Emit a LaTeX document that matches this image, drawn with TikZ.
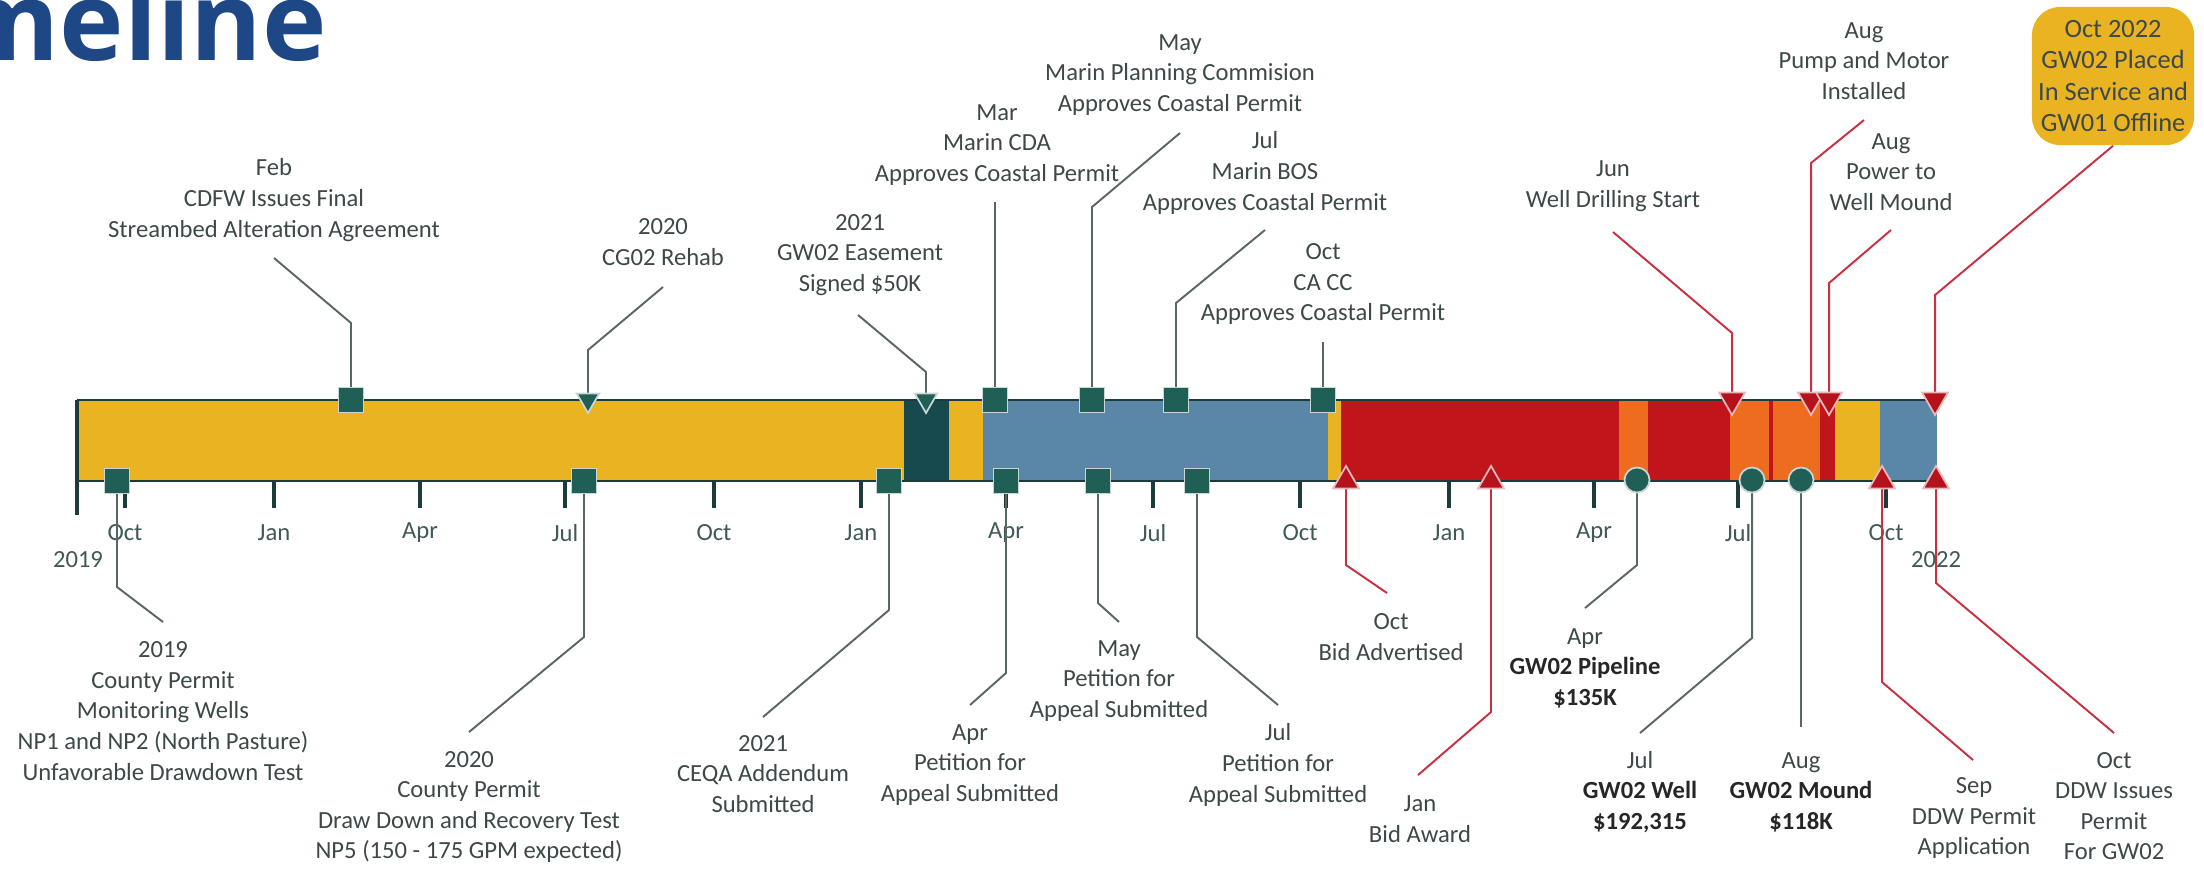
\documentclass[tikz,border=0pt]{standalone}
\usepackage{fontspec}
\setmainfont{Carlito}
\newfontfamily\headfont{Open Sans}
\usetikzlibrary{shapes.geometric}
\definecolor{barGold}{HTML}{E9B322}
\definecolor{barDark}{HTML}{164A4E}
\definecolor{barBlue}{HTML}{5A87A8}
\definecolor{barRed}{HTML}{C1151C}
\definecolor{barOrange}{HTML}{EE6C1F}
\definecolor{mkTeal}{HTML}{1F5F55}
\definecolor{mkRed}{HTML}{B5121B}
\definecolor{lnGray}{HTML}{5A6664}
\definecolor{lnRed}{HTML}{C8303F}
\definecolor{txtGray}{HTML}{3D4848}
\definecolor{axisDark}{HTML}{1E3B3B}
\definecolor{titleBlue}{HTML}{1D4785}

\begin{document}
\begin{tikzpicture}[x=0.01cm, y=-0.01cm]
 \tikzstyle{lbl}=[align=center, text=txtGray, inner sep=0pt, font=\fontsize{7}{8.7}\selectfont]
 \tikzstyle{sqmk}=[rectangle, draw=white!75!mkTeal, fill=mkTeal, line width=0.5pt, minimum size=0.25cm, inner sep=0pt]
 \tikzstyle{cimk}=[circle, draw=white!75!mkTeal, fill=mkTeal, line width=0.5pt, minimum size=0.25cm, inner sep=0pt]
 \tikzstyle{dnteal}=[regular polygon, regular polygon sides=3, shape border rotate=180, draw=white!75!mkTeal, fill=mkTeal, line width=0.5pt, minimum size=0.26cm, inner sep=0pt]
 \tikzstyle{dnred}=[regular polygon, regular polygon sides=3, shape border rotate=180, draw=white!70!mkRed, fill=mkRed, line width=0.5pt, minimum size=0.3cm, inner sep=0pt]
 \tikzstyle{upred}=[regular polygon, regular polygon sides=3, draw=white!70!mkRed, fill=mkRed, line width=0.5pt, minimum size=0.3cm, inner sep=0pt]
 \tikzstyle{lead}=[lnGray, line width=0.55pt]
 \tikzstyle{leadr}=[lnRed, line width=0.55pt]
 \tikzstyle{tickln}=[axisDark, line width=0.9pt]
 \tikzstyle{month}=[text=axisDark!85, inner sep=0pt, font=\fontsize{7}{8}\selectfont]
 \useasboundingbox (0,0) rectangle (2204,875);
 %
 \node[anchor=base west, inner sep=0pt, text=titleBlue, font=\headfont\bfseries\fontsize{31}{31}\selectfont] (ttl) at (-48,60) {meline};
 %
 % bar
 \fill[barGold] (77,400) rectangle (904,481);
 \fill[barDark] (904,400) rectangle (949,481);
 \fill[barGold] (949,400) rectangle (983,481);
 \fill[barBlue] (983,400) rectangle (1328,481);
 \fill[barGold] (1328,400) rectangle (1341,481);
 \fill[barRed] (1341,400) rectangle (1619,481);
 \fill[barOrange] (1619,400) rectangle (1648,481);
 \fill[barRed] (1648,400) rectangle (1730,481);
 \fill[barOrange] (1730,400) rectangle (1820,481);
 \fill[barRed] (1769,400) rectangle (1773,481);
 \fill[barRed] (1820,400) rectangle (1835,481);
 \fill[barGold] (1835,400) rectangle (1880,481);
 \fill[barBlue] (1880,400) rectangle (1937,481);
 \draw[axisDark, line width=0.7pt] (77,400) -- (1937,400);
 \draw[axisDark, line width=0.7pt] (77,481) -- (1937,481);
 \draw[tickln] (77,400) -- (77,515);
 %
 \draw[tickln] (125,481) -- (125,508);
 \draw[tickln] (274,481) -- (274,508);
 \draw[tickln] (420,481) -- (420,508);
 \draw[tickln] (565,481) -- (565,508);
 \draw[tickln] (714,481) -- (714,508);
 \draw[tickln] (861,481) -- (861,508);
 \draw[tickln] (1006,481) -- (1006,508);
 \draw[tickln] (1153,481) -- (1153,508);
 \draw[tickln] (1300,481) -- (1300,508);
 \draw[tickln] (1449,481) -- (1449,508);
 \draw[tickln] (1594,481) -- (1594,508);
 \draw[tickln] (1738,481) -- (1738,508);
 \draw[tickln] (1886,481) -- (1886,508);
 %
 \node[month] (mo1) at (125,533) {Oct};
 \node[month] (mo2) at (274,533) {Jan};
 \node[month] (mo3) at (420,533) {Apr};
 \node[month] (mo4) at (565,533) {Jul};
 \node[month] (mo5) at (714,533) {Oct};
 \node[month] (mo6) at (861,533) {Jan};
 \node[month] (mo7) at (1006,533) {Apr};
 \node[month] (mo8) at (1153,533) {Jul};
 \node[month] (mo9) at (1300,533) {Oct};
 \node[month] (mo10) at (1449,533) {Jan};
 \node[month] (mo11) at (1594,533) {Apr};
 \node[month] (mo12) at (1738,533) {Jul};
 \node[month] (mo13) at (1886,533) {Oct};
 \node[month] (yr19) at (78,560) {2019};
 \node[month] (yr22) at (1936,560) {2022};
 %
 % labels above
 \node[lbl] (tFeb) at (274,200) {Feb\\CDFW Issues Final\\Streambed Alteration Agreement};
 \node[lbl] (tCG) at (663,242) {2020\\CG02 Rehab};
 \node[lbl] (tEas) at (860,255) {2021\\GW02 Easement\\Signed \$50K};
 \node[lbl] (tCDA) at (997,145) {Mar\\Marin CDA\\Approves Coastal Permit};
 \node[lbl] (tMPC) at (1180,75) {May\\Marin Planning Commision\\Approves Coastal Permit};
 \node[lbl] (tBOS) at (1265,173) {Jul\\Marin BOS\\Approves Coastal Permit};
 \node[lbl] (tCACC) at (1323,284) {Oct\\CA CC\\Approves Coastal Permit};
 \node[lbl] (tDrill) at (1613,186) {Jun\\Well Drilling Start};
 \node[lbl] (tPump) at (1864,61) {Aug\\Pump and Motor\\Installed};
 \node[lbl] (tPower) at (1891,172) {Aug\\Power to\\Well Mound};
 \node[lbl, fill=barGold, rounded corners=0.28cm, minimum width=1.62cm, minimum height=1.38cm, font=\fontsize{7.5}{9}\selectfont] (tOct22) at (2113,76) {Oct 2022\\GW02 Placed\\In Service and\\GW01 Offline};
 %
 % labels below
 \node[lbl] (tMon) at (163,711) {2019\\County Permit\\Monitoring Wells\\NP1 and NP2 (North Pasture)\\Unfavorable Drawdown Test};
 \node[lbl] (tDraw) at (469,807) {2020\\County Permit\\Draw Down and Recovery Test\\NP5 (150 - 175 GPM expected)};
 \node[lbl] (tCEQA) at (763,774) {2021\\CEQA Addendum\\Submitted};
 \node[lbl] (tPetA) at (970,765) {Apr\\Petition for\\Appeal Submitted};
 \node[lbl] (tPetM) at (1119,681) {May\\Petition for\\Appeal Submitted};
 \node[lbl] (tPetJ) at (1278,765) {Jul\\Petition for\\Appeal Submitted};
 \node[lbl] (tBidA) at (1391,637) {Oct\\Bid Advertised};
 \node[lbl] (tBidW) at (1420,819) {Jan\\Bid Award};
 \node[lbl] (tPipe) at (1585,668) {Apr\\{\bfseries\color{black!85}GW02 Pipeline}\\{\bfseries\color{black!85}\$135K}};
 \node[lbl] (tWell) at (1640,792) {Jul\\{\bfseries\color{black!85}GW02 Well}\\{\bfseries\color{black!85}\$192,315}};
 \node[lbl] (tMound) at (1801,792) {Aug\\{\bfseries\color{black!85}GW02 Mound}\\{\bfseries\color{black!85}\$118K}};
 \node[lbl] (tDDWa) at (1974,818) {Sep\\DDW Permit\\Application};
 \node[lbl] (tDDWb) at (2114,806) {Oct\\DDW Issues\\Permit\\For GW02};
 %
 % marker points and leader ends
 \coordinate (pFeb) at (351,400); \coordinate (eFeb) at (274,258);
 \coordinate (pCG) at (588,400); \coordinate (eCG) at (663,287);
 \coordinate (pEas) at (926,400); \coordinate (eEas) at (858,315);
 \coordinate (pCDA) at (995,400); \coordinate (eCDA) at (995,202);
 \coordinate (pMPC) at (1092,400); \coordinate (eMPC) at (1180,133);
 \coordinate (pBOS) at (1176,400); \coordinate (eBOS) at (1265,230);
 \coordinate (pCACC) at (1323,400); \coordinate (eCACC) at (1323,342);
 \coordinate (pDrill) at (1732,400); \coordinate (eDrill) at (1613,232);
 \coordinate (pPump) at (1811,400); \coordinate (ePump) at (1864,120);
 \coordinate (pPower) at (1829,400); \coordinate (ePower) at (1891,230);
 \coordinate (pOct22) at (1935,400);
 \coordinate (pMon) at (117,481); \coordinate (eMon) at (163,622);
 \coordinate (pDraw) at (584,481); \coordinate (eDraw) at (469,732);
 \coordinate (pCEQA) at (889,481); \coordinate (eCEQA) at (763,717);
 \coordinate (pPetA) at (1006,481); \coordinate (ePetA) at (970,705);
 \coordinate (pPetM) at (1098,481); \coordinate (ePetM) at (1119,622);
 \coordinate (pPetJ) at (1197,481); \coordinate (ePetJ) at (1278,705);
 \coordinate (pBidA) at (1346,481); \coordinate (eBidA) at (1387,593);
 \coordinate (pBidW) at (1491,481); \coordinate (eBidW) at (1418,775);
 \coordinate (pPipe) at (1637,480); \coordinate (ePipe) at (1585,608);
 \coordinate (pWell) at (1752,480); \coordinate (eWell) at (1640,733);
 \coordinate (pMound) at (1801,480); \coordinate (eMound) at (1801,727);
 \coordinate (pDDWa) at (1882,481); \coordinate (eDDWa) at (1973,760);
 \coordinate (pDDWb) at (1936,481); \coordinate (eDDWb) at (2114,733);
 %%
 \draw[lead] (pFeb)--(351,323)--(eFeb);
 \draw[lead] (pCG)--(588,350)--(eCG);
 \draw[lead] (pEas)--(926,372)--(eEas);
 \draw[lead] (pCDA)--(eCDA);
 \draw[lead] (pMPC)--(1092,207)--(eMPC);
 \draw[lead] (pBOS)--(1176,303)--(eBOS);
 \draw[lead] (pCACC)--(eCACC);
 \draw[leadr] (pDrill)--(1732,333)--(eDrill);
 \draw[leadr] (pPump)--(1811,163)--(ePump);
 \draw[leadr] (pPower)--(1829,283)--(ePower);
 \draw[leadr] (pOct22)--(1935,295)--(tOct22.south);
 \draw[lead] (pMon)--(117,587)--(eMon);
 \draw[lead] (pDraw)--(584,637)--(eDraw);
 \draw[lead] (pCEQA)--(889,610)--(eCEQA);
 \draw[lead] (pPetA)--(1006,673)--(ePetA);
 \draw[lead] (pPetM)--(1098,603)--(ePetM);
 \draw[lead] (pPetJ)--(1197,637)--(ePetJ);
 \draw[leadr] (pBidA)--(1346,565)--(eBidA);
 \draw[leadr] (pBidW)--(1491,712)--(eBidW);
 \draw[lead] (pPipe)--(1637,565)--(ePipe);
 \draw[lead] (pWell)--(1752,638)--(eWell);
 \draw[lead] (pMound)--(eMound);
 \draw[leadr] (pDDWa)--(1882,682)--(eDDWa);
 \draw[leadr] (pDDWb)--(1936,583)--(eDDWb);
 %%
 \node[sqmk] (mFeb) at (pFeb) {};
 \node[dnteal] (mCG) at (pCG) {};
 \node[dnteal] (mEas) at (pEas) {};
 \node[sqmk] (mCDA) at (pCDA) {};
 \node[sqmk] (mMPC) at (pMPC) {};
 \node[sqmk] (mBOS) at (pBOS) {};
 \node[sqmk] (mCACC) at (pCACC) {};
 \node[dnred] (mDrill) at (pDrill) {};
 \node[dnred] (mPump) at (pPump) {};
 \node[dnred] (mPower) at (pPower) {};
 \node[dnred] (mOct22) at (pOct22) {};
 \node[sqmk] (mMon) at (pMon) {};
 \node[sqmk] (mDraw) at (pDraw) {};
 \node[sqmk] (mCEQA) at (pCEQA) {};
 \node[sqmk] (mPetA) at (pPetA) {};
 \node[sqmk] (mPetM) at (pPetM) {};
 \node[sqmk] (mPetJ) at (pPetJ) {};
 \node[upred] (mBidA) at (pBidA) {};
 \node[upred] (mBidW) at (pBidW) {};
 \node[cimk] (mPipe) at (pPipe) {};
 \node[cimk] (mWell) at (pWell) {};
 \node[cimk] (mMound) at (pMound) {};
 \node[upred] (mDDWa) at (pDDWa) {};
 \node[upred] (mDDWb) at (pDDWb) {};
\end{tikzpicture}
\end{document}
